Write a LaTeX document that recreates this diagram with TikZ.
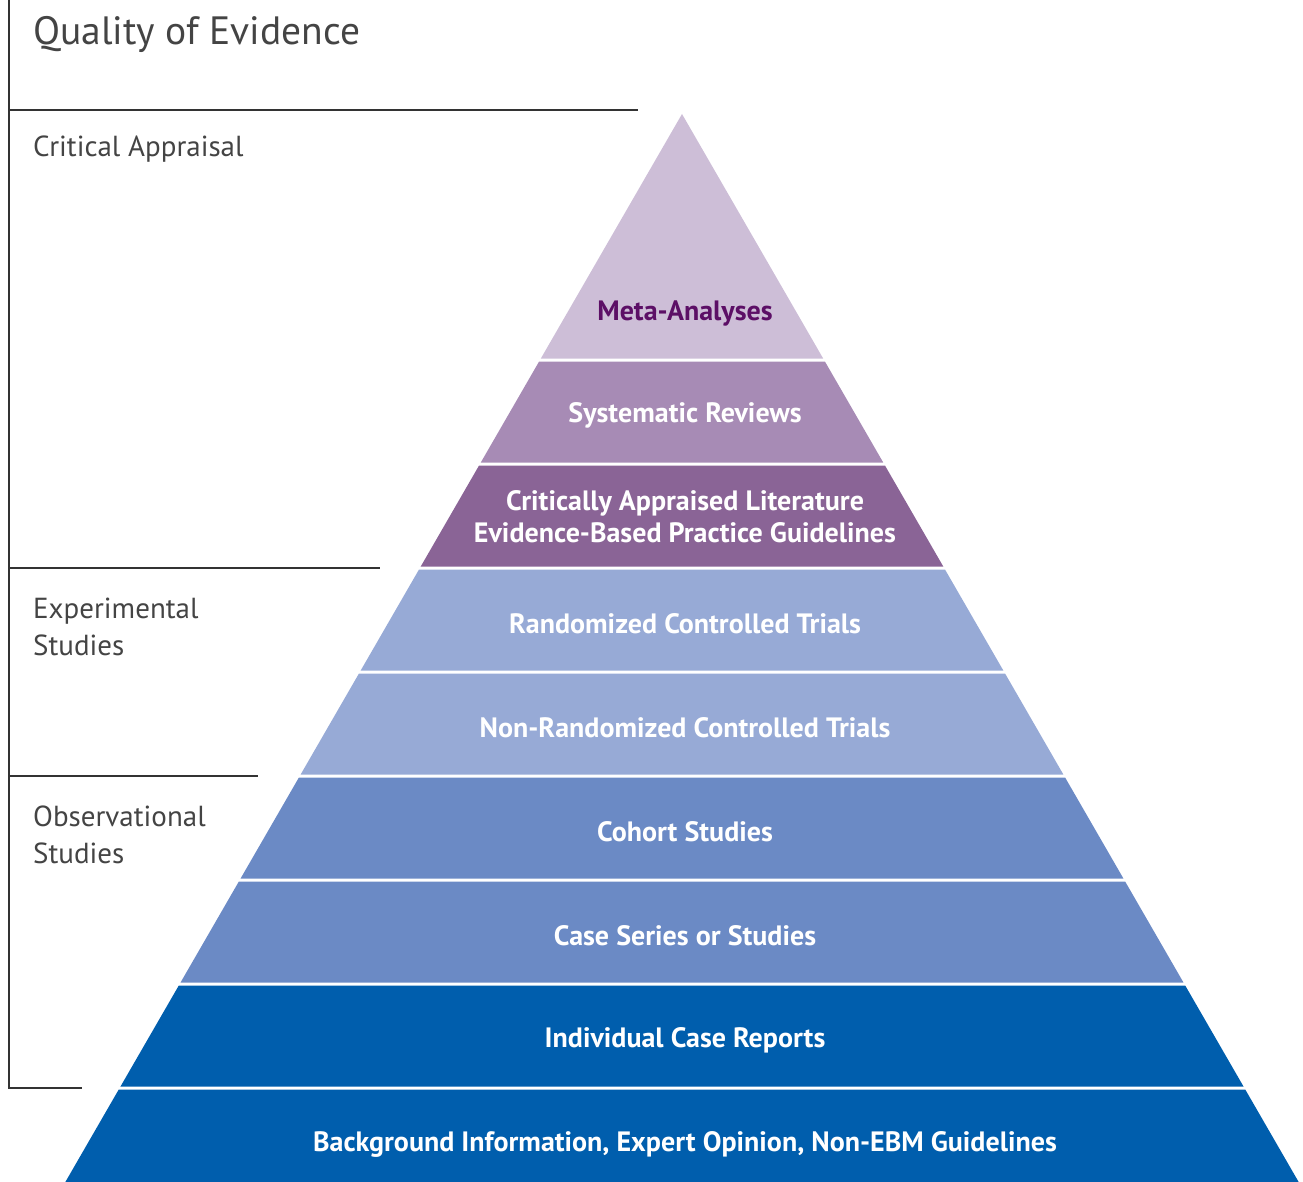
\documentclass[tikz,border=0pt]{standalone}
\usepackage{fontspec}
\setmainfont{PT Sans}
\usetikzlibrary{positioning}

\definecolor{rulegray}{HTML}{333333}
\definecolor{textgray}{HTML}{444444}
\definecolor{metafill}{HTML}{CDBED7}
\definecolor{metatext}{HTML}{5C0F66}
\definecolor{sysfill}{HTML}{A78BB5}
\definecolor{critfill}{HTML}{8A6496}
\definecolor{expfill}{HTML}{97AAD6}
\definecolor{obsfill}{HTML}{6B8AC5}
\definecolor{basefill}{HTML}{005EAD}

\newcommand{\pyrband}[3]{%
  \fill[#3] ({682-0.5774*(#1-114)},#1) -- ({682+0.5774*(#1-114)},#1) --
    ({682+0.5774*(#2-114)},#2) -- ({682-0.5774*(#2-114)},#2) -- cycle;}

\tikzset{
  tier/.style={font=\bfseries\fontsize{28}{32}\selectfont, text=white, align=center},
  side/.style={font=\fontsize{29}{37}\selectfont, text=textgray, anchor=base west, align=left, inner sep=0pt},
  bracket/.style={draw=rulegray, line width=1.2pt}
}

\begin{document}
\begin{tikzpicture}[x=1pt,y=-1pt]
\useasboundingbox (0,0) rectangle (1303,1182);

% pyramid
\fill[metafill] (682,114) -- ({682+0.5774*(358.5-114)},358.5) -- ({682-0.5774*(358.5-114)},358.5) -- cycle;
\pyrband{361.5}{462.5}{sysfill}
\pyrband{465.5}{566.5}{critfill}
\pyrband{569.5}{670.5}{expfill}
\pyrband{673.5}{774.5}{expfill}
\pyrband{777.5}{878.5}{obsfill}
\pyrband{881.5}{982.5}{obsfill}
\pyrband{985.5}{1086.5}{basefill}
\pyrband{1089.5}{1182}{basefill}

\node[tier, text=metatext] (meta) at (685,313) {Meta-Analyses};
\node[tier] (sysrev) at (685,415) {Systematic Reviews};
\node[tier] (critlit) at (685,517) {Critically Appraised Literature\\Evidence-Based Practice Guidelines};
\node[tier] (rct) at (685,624) {Randomized Controlled Trials};
\node[tier] (nonrct) at (685,728) {Non-Randomized Controlled Trials};
\node[tier] (cohort) at (685,832) {Cohort Studies};
\node[tier] (caseser) at (685,936) {Case Series or Studies};
\node[tier] (casrep) at (685,1040) {Individual Case Reports};
\node[tier] (backgr) at (685,1144) {Background Information, Expert Opinion, Non-EBM Guidelines};

% left scale
\draw[bracket] (9,0) -- (9,1088) -- (82,1088);
\draw[bracket] (9,110) -- (638,110);
\draw[bracket] (9,568) -- (380,568);
\draw[bracket] (9,776) -- (258,776);

\node[side, font=\fontsize{39.5}{48}\selectfont] (quality) at (33,45) {Quality of Evidence};
\node[side] (critapp) at (33,157) {Critical Appraisal};
\node[side] (expstud) at (33,655) {Experimental\\Studies};
\node[side] (obsstud) at (33,863) {Observational\\Studies};

\end{tikzpicture}
\end{document}
